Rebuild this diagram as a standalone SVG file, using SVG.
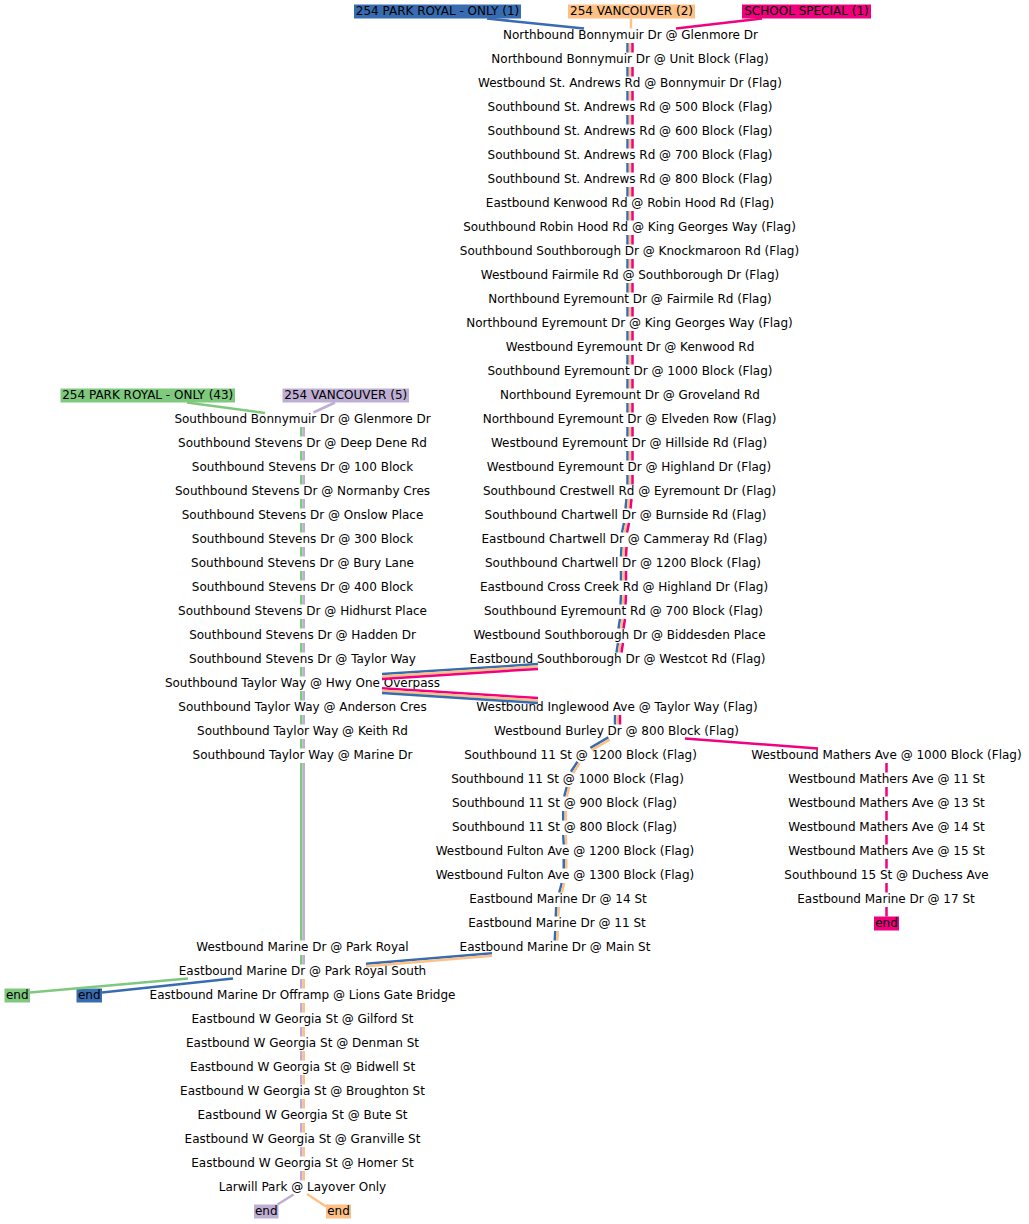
<svg xmlns="http://www.w3.org/2000/svg" width="1029" height="1224" viewBox="0 0 1029 1224">
<style>
text{font-family:"DejaVu Sans","Liberation Sans",sans-serif;font-size:12px;fill:#000;text-anchor:middle}
.e{fill:none;stroke-width:2.5;stroke-linecap:butt}
.b{stroke:#386cb0}.o{stroke:#fdc086}.p{stroke:#f0027f}.g{stroke:#7fc97f}.u{stroke:#beaed4}
.fb{fill:#386cb0}.fo{fill:#fdc086}.fp{fill:#f0027f}.fg{fill:#7fc97f}.fu{fill:#beaed4}
</style>
<rect width="1029" height="1224" fill="#fff"/>
<g id="nodes">
<g id="lbl_pr1"><rect class="fb" x="354" y="4.5" width="167" height="14"/><text x="437.5" y="15">254 PARK ROYAL - ONLY (1)</text></g>
<g id="lbl_van2"><rect class="fo" x="568" y="4.5" width="127" height="14"/><text x="631.5" y="15">254 VANCOUVER (2)</text></g>
<g id="lbl_ss1"><rect class="fp" x="742" y="4.5" width="129" height="14"/><text x="806.5" y="15">SCHOOL SPECIAL (1)</text></g>
<g id="lbl_pr43"><rect class="fg" x="60.5" y="388.5" width="174.5" height="14"/><text x="147.75" y="399">254 PARK ROYAL - ONLY (43)</text></g>
<g id="lbl_van5"><rect class="fu" x="282.5" y="388.5" width="126.5" height="14"/><text x="345.75" y="399">254 VANCOUVER (5)</text></g>
<g id="end_g"><rect class="fg" x="4.5" y="988.5" width="25.5" height="14"/><text x="17.25" y="999">end</text></g>
<g id="end_b"><rect class="fb" x="76.5" y="988.5" width="25.5" height="14"/><text x="89.25" y="999">end</text></g>
<g id="end_p"><rect class="fp" x="874" y="916.5" width="25" height="14"/><text x="886.5" y="927">end</text></g>
<g id="end_u"><rect class="fu" x="254" y="1204.5" width="24.5" height="14"/><text x="266.25" y="1215">end</text></g>
<g id="end_o"><rect class="fo" x="326" y="1204.5" width="25" height="14"/><text x="338.5" y="1215">end</text></g>

<g id="m01"><text x="630.5" y="39">Northbound Bonnymuir Dr @ Glenmore Dr</text></g>
<g id="m02"><text x="630" y="63">Northbound Bonnymuir Dr @ Unit Block (Flag)</text></g>
<g id="m03"><text x="630" y="87">Westbound St. Andrews Rd @ Bonnymuir Dr (Flag)</text></g>
<g id="m04"><text x="630" y="111">Southbound St. Andrews Rd @ 500 Block (Flag)</text></g>
<g id="m05"><text x="630" y="135">Southbound St. Andrews Rd @ 600 Block (Flag)</text></g>
<g id="m06"><text x="630" y="159">Southbound St. Andrews Rd @ 700 Block (Flag)</text></g>
<g id="m07"><text x="630" y="183">Southbound St. Andrews Rd @ 800 Block (Flag)</text></g>
<g id="m08"><text x="630" y="207">Eastbound Kenwood Rd @ Robin Hood Rd (Flag)</text></g>
<g id="m09"><text x="629.5" y="231">Southbound Robin Hood Rd @ King Georges Way (Flag)</text></g>
<g id="m10"><text x="629.5" y="255">Southbound Southborough Dr @ Knockmaroon Rd (Flag)</text></g>
<g id="m11"><text x="630" y="279">Westbound Fairmile Rd @ Southborough Dr (Flag)</text></g>
<g id="m12"><text x="630" y="303">Northbound Eyremount Dr @ Fairmile Rd (Flag)</text></g>
<g id="m13"><text x="629.5" y="327">Northbound Eyremount Dr @ King Georges Way (Flag)</text></g>
<g id="m14"><text x="630" y="351">Westbound Eyremount Dr @ Kenwood Rd</text></g>
<g id="m15"><text x="630" y="375">Southbound Eyremount Dr @ 1000 Block (Flag)</text></g>
<g id="m16"><text x="630" y="399">Northbound Eyremount Dr @ Groveland Rd</text></g>
<g id="m17"><text x="629.5" y="423">Northbound Eyremount Dr @ Elveden Row (Flag)</text></g>
<g id="m18"><text x="629" y="447">Westbound Eyremount Dr @ Hillside Rd (Flag)</text></g>
<g id="m19"><text x="629" y="471">Westbound Eyremount Dr @ Highland Dr (Flag)</text></g>
<g id="m20"><text x="629.5" y="495">Southbound Crestwell Rd @ Eyremount Dr (Flag)</text></g>
<g id="m21"><text x="625.5" y="519">Southbound Chartwell Dr @ Burnside Rd (Flag)</text></g>
<g id="m22"><text x="624.5" y="543">Eastbound Chartwell Dr @ Cammeray Rd (Flag)</text></g>
<g id="m23"><text x="623" y="567">Southbound Chartwell Dr @ 1200 Block (Flag)</text></g>
<g id="m24"><text x="624" y="591">Eastbound Cross Creek Rd @ Highland Dr (Flag)</text></g>
<g id="m25"><text x="623.5" y="615">Southbound Eyremount Rd @ 700 Block (Flag)</text></g>
<g id="m26"><text x="619.5" y="639">Westbound Southborough Dr @ Biddesden Place</text></g>
<g id="m27"><text x="617.5" y="663">Eastbound Southborough Dr @ Westcot Rd (Flag)</text></g>

<g id="l01"><text x="302.5" y="423">Southbound Bonnymuir Dr @ Glenmore Dr</text></g>
<g id="l02"><text x="302.5" y="447">Southbound Stevens Dr @ Deep Dene Rd</text></g>
<g id="l03"><text x="302.5" y="471">Southbound Stevens Dr @ 100 Block</text></g>
<g id="l04"><text x="302.5" y="495">Southbound Stevens Dr @ Normanby Cres</text></g>
<g id="l05"><text x="302.5" y="519">Southbound Stevens Dr @ Onslow Place</text></g>
<g id="l06"><text x="302.5" y="543">Southbound Stevens Dr @ 300 Block</text></g>
<g id="l07"><text x="302.5" y="567">Southbound Stevens Dr @ Bury Lane</text></g>
<g id="l08"><text x="302.5" y="591">Southbound Stevens Dr @ 400 Block</text></g>
<g id="l09"><text x="302.5" y="615">Southbound Stevens Dr @ Hidhurst Place</text></g>
<g id="l10"><text x="302.5" y="639">Southbound Stevens Dr @ Hadden Dr</text></g>
<g id="l11"><text x="302.5" y="663">Southbound Stevens Dr @ Taylor Way</text></g>
<g id="l12"><text x="302.5" y="687">Southbound Taylor Way @ Hwy One Overpass</text></g>
<g id="l13"><text x="302.5" y="711">Southbound Taylor Way @ Anderson Cres</text></g>
<g id="l14"><text x="302.5" y="735">Southbound Taylor Way @ Keith Rd</text></g>
<g id="l15"><text x="302.5" y="759">Southbound Taylor Way @ Marine Dr</text></g>
<g id="l16"><text x="302.5" y="951">Westbound Marine Dr @ Park Royal</text></g>
<g id="l17"><text x="302.5" y="975">Eastbound Marine Dr @ Park Royal South</text></g>
<g id="l18"><text x="302.5" y="999">Eastbound Marine Dr Offramp @ Lions Gate Bridge</text></g>
<g id="l19"><text x="302.5" y="1023">Eastbound W Georgia St @ Gilford St</text></g>
<g id="l20"><text x="302.5" y="1047">Eastbound W Georgia St @ Denman St</text></g>
<g id="l21"><text x="302.5" y="1071">Eastbound W Georgia St @ Bidwell St</text></g>
<g id="l22"><text x="302.5" y="1095">Eastbound W Georgia St @ Broughton St</text></g>
<g id="l23"><text x="302.5" y="1119">Eastbound W Georgia St @ Bute St</text></g>
<g id="l24"><text x="302.5" y="1143">Eastbound W Georgia St @ Granville St</text></g>
<g id="l25"><text x="302.5" y="1167">Eastbound W Georgia St @ Homer St</text></g>
<g id="l26"><text x="302.5" y="1191">Larwill Park @ Layover Only</text></g>

<g id="c01"><text x="617" y="711">Westbound Inglewood Ave @ Taylor Way (Flag)</text></g>
<g id="c02"><text x="616.5" y="735">Westbound Burley Dr @ 800 Block (Flag)</text></g>
<g id="c03"><text x="580.5" y="759">Southbound 11 St @ 1200 Block (Flag)</text></g>
<g id="c04"><text x="567.5" y="783">Southbound 11 St @ 1000 Block (Flag)</text></g>
<g id="c05"><text x="564.5" y="807">Southbound 11 St @ 900 Block (Flag)</text></g>
<g id="c06"><text x="564.5" y="831">Southbound 11 St @ 800 Block (Flag)</text></g>
<g id="c07"><text x="565" y="855">Westbound Fulton Ave @ 1200 Block (Flag)</text></g>
<g id="c08"><text x="565" y="879">Westbound Fulton Ave @ 1300 Block (Flag)</text></g>
<g id="c09"><text x="558" y="903">Eastbound Marine Dr @ 14 St</text></g>
<g id="c10"><text x="557" y="927">Eastbound Marine Dr @ 11 St</text></g>
<g id="c11"><text x="555" y="951">Eastbound Marine Dr @ Main St</text></g>

<g id="r01"><text x="886.5" y="759">Westbound Mathers Ave @ 1000 Block (Flag)</text></g>
<g id="r02"><text x="886.5" y="783">Westbound Mathers Ave @ 11 St</text></g>
<g id="r03"><text x="886.5" y="807">Westbound Mathers Ave @ 13 St</text></g>
<g id="r04"><text x="886.5" y="831">Westbound Mathers Ave @ 14 St</text></g>
<g id="r05"><text x="886.5" y="855">Westbound Mathers Ave @ 15 St</text></g>
<g id="r06"><text x="886.5" y="879">Southbound 15 St @ Duchess Ave</text></g>
<g id="r07"><text x="886" y="903">Eastbound Marine Dr @ 17 St</text></g>
</g>

<g id="connectors">
<path class="e b" d="M487 18.5L584 28.5"/>
<path class="e o" d="M631 18.5V28.5"/>
<path class="e p" d="M762 18.5L676 28.5"/>
<path class="e b" d="M627.5 43V52.5M627.5 67V76.5M627.5 91V100.5M627.5 115V124.5M627.5 139V148.5M627.5 163V172.5M627.5 187V196.5M627.5 211V220.5M627.5 235V244.5M627.5 259V268.5M627.5 283V292.5M627.5 307V316.5M627.5 331V340.5M627.5 355V364.5M627.5 379V388.5M627.5 403V412.5M627.5 427V436.5M627.5 451V460.5M627.5 475V484.5M626.5 499L625.5 508.5M624 523L622 532.5M621.5 547L621 556.5M621 571L621 580.5M621 595L620.5 604.5M620 619L618.5 628.5M618 643L616.5 652.5"/>
<path class="e o" d="M630 43V52.5M630 67V76.5M630 91V100.5M630 115V124.5M630 139V148.5M630 163V172.5M630 187V196.5M630 211V220.5M630 235V244.5M630 259V268.5M630 283V292.5M630 307V316.5M630 331V340.5M630 355V364.5M630 379V388.5M630 403V412.5M630 427V436.5M630 451V460.5M630 475V484.5M629 499L628 508.5M626.5 523L624.5 532.5M624 547L623.5 556.5M623.5 571L623.5 580.5M623.5 595L623 604.5M622.5 619L621 628.5M620.5 643L619 652.5"/>
<path class="e p" d="M632.5 43V52.5M632.5 67V76.5M632.5 91V100.5M632.5 115V124.5M632.5 139V148.5M632.5 163V172.5M632.5 187V196.5M632.5 211V220.5M632.5 235V244.5M632.5 259V268.5M632.5 283V292.5M632.5 307V316.5M632.5 331V340.5M632.5 355V364.5M632.5 379V388.5M632.5 403V412.5M632.5 427V436.5M632.5 451V460.5M632.5 475V484.5M631.5 499L630.5 508.5M629 523L627 532.5M626.5 547L626 556.5M626 571L626 580.5M626 595L625.5 604.5M625 619L623.5 628.5M623 643L621.5 652.5"/>
<path class="e b" d="M538 664.1L382 674.1"/>
<path class="e o" d="M538 666.5L382 676.5"/>
<path class="e p" d="M538 668.9L382 678.9"/>
<path class="e p" d="M382 688.3L538 698.1"/>
<path class="e o" d="M382 690.7L538 700.5"/>
<path class="e b" d="M382 693.1L538 702.9"/>
<path class="e b" d="M615 715V724.5"/>
<path class="e o" d="M617.5 715V724.5"/>
<path class="e p" d="M620 715V724.5"/>
<path class="e b" d="M608.35 737.45L590.35 747.95M577.45 761.8L570.95 771.8M566.75 787L564.25 796.5M563.25 811V820.5M563.25 835L563.75 844.5M563.75 859V868.5M561.75 883L559.25 892.5M556.25 907L555.75 916.5M555.25 931L554.75 940.5"/>
<path class="e o" d="M609.65 739.55L591.65 750.05M579.55 763.2L573.05 773.2M569.25 787L566.75 796.5M565.75 811V820.5M565.75 835L566.25 844.5M566.25 859V868.5M564.25 883L561.75 892.5M558.75 907L558.25 916.5M557.75 931L557.25 940.5"/>
<path class="e b" d="M492 953.25L366 963.75"/>
<path class="e o" d="M492 955.75L366 966.25"/>
<path class="e p" d="M685 738.5L818 748.5"/>
<path class="e p" d="M886.5 763V772.5M886.5 787V796.5M886.5 811V820.5M886.5 835V844.5M886.5 859V868.5M886.5 883V892.5M886.5 907V916.5"/>
<path class="e g" d="M187 402.5L265 413"/>
<path class="e u" d="M335 402.5L313.5 412.5"/>
<path class="e g" d="M301.25 427V436.5M301.25 451V460.5M301.25 475V484.5M301.25 499V508.5M301.25 523V532.5M301.25 547V556.5M301.25 571V580.5M301.25 595V604.5M301.25 619V628.5M301.25 643V652.5M301.25 667V676.5M301.25 691V700.5M301.25 715V724.5M301.25 739V748.5M301.25 763V940.5M301.25 955V964.5"/>
<path class="e u" d="M303.75 427V436.5M303.75 451V460.5M303.75 475V484.5M303.75 499V508.5M303.75 523V532.5M303.75 547V556.5M303.75 571V580.5M303.75 595V604.5M303.75 619V628.5M303.75 643V652.5M303.75 667V676.5M303.75 691V700.5M303.75 715V724.5M303.75 739V748.5M303.75 763V940.5M303.75 955V964.5"/>
<path class="e u" d="M301.25 979V988.5M301.25 1003V1012.5M301.25 1027V1036.5M301.25 1051V1060.5M301.25 1075V1084.5M301.25 1099V1108.5M301.25 1123V1132.5M301.25 1147V1156.5M301.25 1171V1180.5"/>
<path class="e o" d="M303.75 979V988.5M303.75 1003V1012.5M303.75 1027V1036.5M303.75 1051V1060.5M303.75 1075V1084.5M303.75 1099V1108.5M303.75 1123V1132.5M303.75 1147V1156.5M303.75 1171V1180.5"/>
<path class="e g" d="M188 978.5L30 992.5"/>
<path class="e b" d="M233 978.5L102 992.5"/>
<path class="e u" d="M293.5 1194.5L277.5 1204.5"/>
<path class="e o" d="M307 1194L326 1206.5"/>
</g>
</svg>
